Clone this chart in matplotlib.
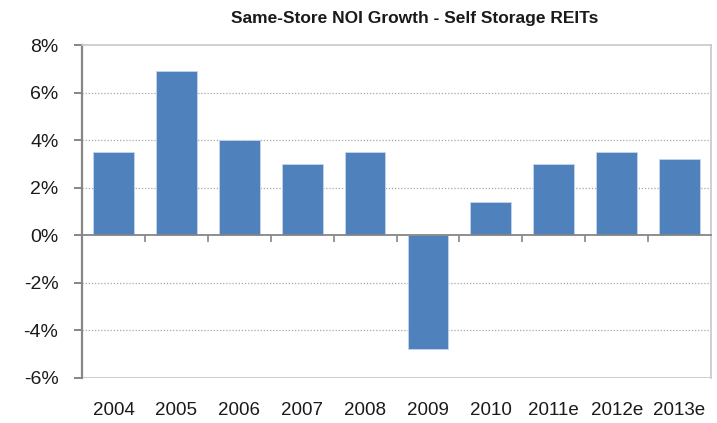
import numpy as np
import matplotlib.pyplot as plt
from matplotlib.ticker import FuncFormatter, FixedLocator

years = ["2004", "2005", "2006", "2007", "2008", "2009", "2010", "2011e", "2012e", "2013e"]
noi_growth = [3.5, 6.9, 4.0, 3.0, 3.5, -4.8, 1.4, 3.0, 3.5, 3.2]
title = "Same-Store NOI Growth - Self Storage REITs"

plt.rcParams["font.family"] = ["Liberation Sans Narrow", "Liberation Sans", "DejaVu Sans"]

BAR_COLOR = "#4f81bd"
GRID_COLOR = "#a6a6a6"
AXIS_COLOR = "#868686"

fig = plt.figure(figsize=(7.17, 4.23), dpi=100)
ax = fig.add_axes([0.1144, 0.1064, 0.8772, 0.7872])

x = np.arange(len(years))
ax.bar(x, noi_growth, width=0.65, color=BAR_COLOR, edgecolor="#c5d5ea", linewidth=0.6, zorder=3)

ax.set_xlim(-0.5, len(years) - 0.5)
ax.set_ylim(-6, 8)
ax.set_yticks(np.arange(-6, 9, 2))
ax.yaxis.set_major_formatter(FuncFormatter(lambda v, p: f"{v:.0f}%"))

# dotted grid lines
for v in np.arange(-4, 8, 2):
    if v != 0:
        ax.axhline(v, color=GRID_COLOR, linestyle=(0, (1, 1.5)), linewidth=0.9, zorder=1)

# spines
ax.spines["left"].set_color(AXIS_COLOR)
ax.spines["left"].set_linewidth(1.6)
ax.spines["bottom"].set_position(("data", 0))
ax.spines["bottom"].set_color(AXIS_COLOR)
ax.spines["bottom"].set_linewidth(1.3)
ax.spines["bottom"].set_zorder(4)
ax.spines["right"].set_color("#c8c8c8")
ax.spines["right"].set_linewidth(1.2)
ax.spines["top"].set_color("#c8c8c8")
ax.spines["top"].set_linewidth(1.2)
ax.axhline(-6, color="#c8c8c8", linewidth=2, zorder=2)

# x ticks at category boundaries, labels below the plot
ax.xaxis.set_major_locator(FixedLocator(np.arange(0.5, len(years) - 0.5, 1)))
ax.xaxis.set_major_formatter(FuncFormatter(lambda v, p: ""))
ax.tick_params(axis="x", direction="out", length=5, width=1.2, color=AXIS_COLOR)
ax.tick_params(axis="y", direction="out", length=6, width=1.4, color=AXIS_COLOR,
               labelsize=14, pad=11, labelcolor="#1a1a1a")
for i, lab in enumerate(years):
    ax.text(i, -7.0, lab, ha="center", va="top", fontsize=13.5, color="#1a1a1a")

fig.text(0.579, 0.957, title, ha="center", va="center", fontsize=12.5,
         fontweight="bold", color="#1a1a1a")

fig.savefig("out.png", dpi=100)
